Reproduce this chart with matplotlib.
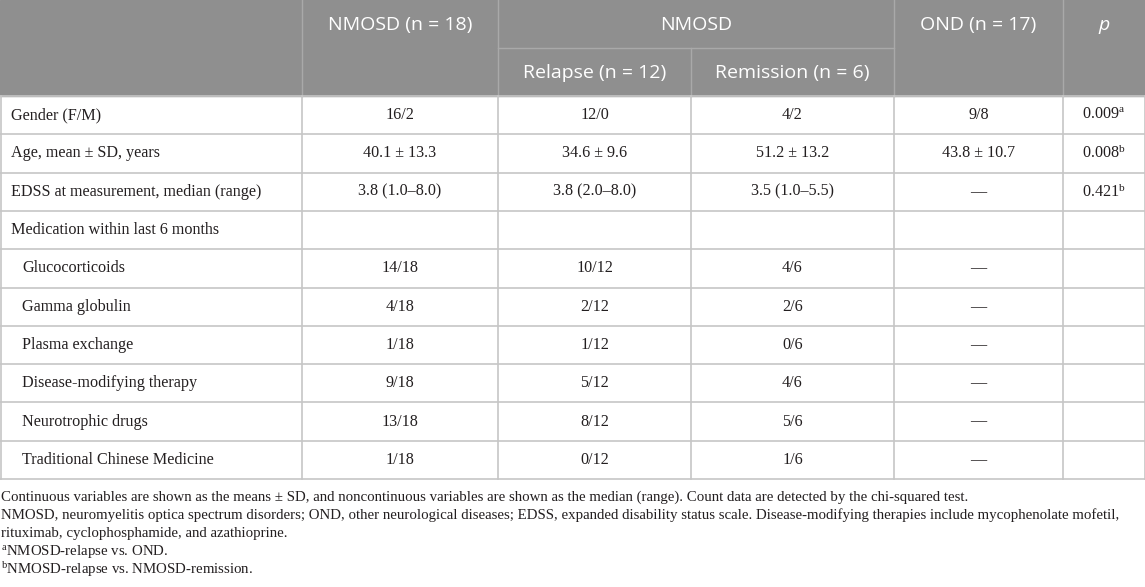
import matplotlib
matplotlib.use("Agg")
import matplotlib.pyplot as plt

plt.rcParams["mathtext.fontset"] = "custom"
plt.rcParams["mathtext.rm"] = "Liberation Serif"
plt.rcParams["mathtext.it"] = "Liberation Serif:italic"

# table content
row_labels = ["Gender (F/M)", "Age, mean ± SD, years",
              "EDSS at measurement, median (range)",
              "Medication within last 6 months",
              "Glucocorticoids", "Gamma globulin", "Plasma exchange",
              "Disease-modifying therapy", "Neurotrophic drugs",
              "Traditional Chinese Medicine"]
nmosd_all = ["16/2", "40.1 ± 13.3", "3.8 (1.0–8.0)", "",
             "14/18", "4/18", "1/18", "9/18", "13/18", "1/18"]
relapse = ["12/0", "34.6 ± 9.6", "3.8 (2.0–8.0)", "",
           "10/12", "2/12", "1/12", "5/12", "8/12", "0/12"]
remission = ["4/2", "51.2 ± 13.2", "3.5 (1.0–5.5)", "",
             "4/6", "2/6", "0/6", "4/6", "5/6", "1/6"]
ond = ["9/8", "43.8 ± 10.7", "—", "", "—", "—", "—", "—", "—", "—"]
p_vals = ["0.009", "0.008", "0.421", "", "", "", "", "", "", ""]
p_marks = ["a", "b", "b", "", "", "", "", "", "", ""]

header_top = ["NMOSD (n = 18)", "NMOSD", "OND (n = 17)"]
header_sub = ["Relapse (n = 12)", "Remission (n = 6)"]

footnotes = [
    "Continuous variables are shown as the means ± SD, and noncontinuous variables are shown as the median (range). Count data are detected by the chi-squared test.",
    "NMOSD, neuromyelitis optica spectrum disorders; OND, other neurological diseases; EDSS, expanded disability status scale. Disease-modifying therapies include mycophenolate mofetil,",
    "rituximab, cyclophosphamide, and azathioprine.",
    "$^{\\mathrm{a}}$NMOSD-relapse vs. OND.",
    "$^{\\mathrm{b}}$NMOSD-relapse vs. NMOSD-remission.",
]

W, H = 1145, 587
fig = plt.figure(figsize=(W / 100, H / 100), dpi=100)
ax = fig.add_axes([0, 0, 1, 1])
ax.set_xlim(0, W)
ax.set_ylim(H, 0)
ax.axis("off")

cols = [0.5, 302, 498, 691, 894, 1063, 1144.5]
head_h = 96
row_h = 38.3
n = len(row_labels)
bottom = head_h + n * row_h

hdr_col = "#8f8f8f"
hdr_line = "#a9a9a9"
grid = "#c6c6c6"
txt = "#231f20"
serif = "Liberation Serif"
sans = "Open Sans"

# header band
ax.add_patch(plt.Rectangle((0, 0), W, head_h, color=hdr_col, zorder=0))
ax.plot([cols[2], cols[4]], [48, 48], color=hdr_line, lw=1)
for x in [cols[1], cols[2], cols[4], cols[5]]:
    ax.plot([x, x], [0, head_h], color=hdr_line, lw=1)
ax.plot([cols[3], cols[3]], [48, head_h], color=hdr_line, lw=1)

hfs = 14
ax.text((cols[1] + cols[2]) / 2, 25, header_top[0], ha="center", va="center",
        color="white", fontsize=hfs, family=sans)
ax.text((cols[2] + cols[4]) / 2, 25, header_top[1], ha="center", va="center",
        color="white", fontsize=hfs, family=sans)
ax.text((cols[4] + cols[5]) / 2, 25, header_top[2], ha="center", va="center",
        color="white", fontsize=hfs, family=sans)
ax.text((cols[5] + cols[6]) / 2, 25, "p", ha="center", va="center",
        color="white", fontsize=hfs, family=sans, style="italic")
ax.text((cols[2] + cols[3]) / 2, 73, header_sub[0], ha="center", va="center",
        color="white", fontsize=hfs, family=sans)
ax.text((cols[3] + cols[4]) / 2, 73, header_sub[1], ha="center", va="center",
        color="white", fontsize=hfs, family=sans)

# body grid
for i in range(n + 1):
    y = head_h + i * row_h
    ax.plot([0, W], [y, y], color=grid, lw=1.2)
for x in cols:
    ax.plot([x, x], [head_h, bottom], color=grid, lw=1.2)

bfs = 11.6
body_cols = [nmosd_all, relapse, remission, ond]
for i, label in enumerate(row_labels):
    yc = head_h + (i + 0.5) * row_h
    indent = 22 if i >= 4 else 11
    ax.text(indent, yc, label, ha="left", va="center", color=txt,
            fontsize=bfs, family=serif)
    for j, col in enumerate(body_cols):
        ax.text((cols[j + 1] + cols[j + 2]) / 2, yc, col[i], ha="center",
                va="center", color=txt, fontsize=bfs, family=serif)
    if p_vals[i]:
        ax.text((cols[5] + cols[6]) / 2, yc,
                p_vals[i] + "$^{\\mathrm{" + p_marks[i] + "}}$",
                ha="center", va="center", color=txt, fontsize=bfs, family=serif)

# footnotes
ffs = 10.75
for k, line in enumerate(footnotes):
    ax.text(1, 497 + k * 18.2, line, ha="left", va="center", color=txt,
            fontsize=ffs, family=serif)

fig.savefig("out.png", dpi=100)
